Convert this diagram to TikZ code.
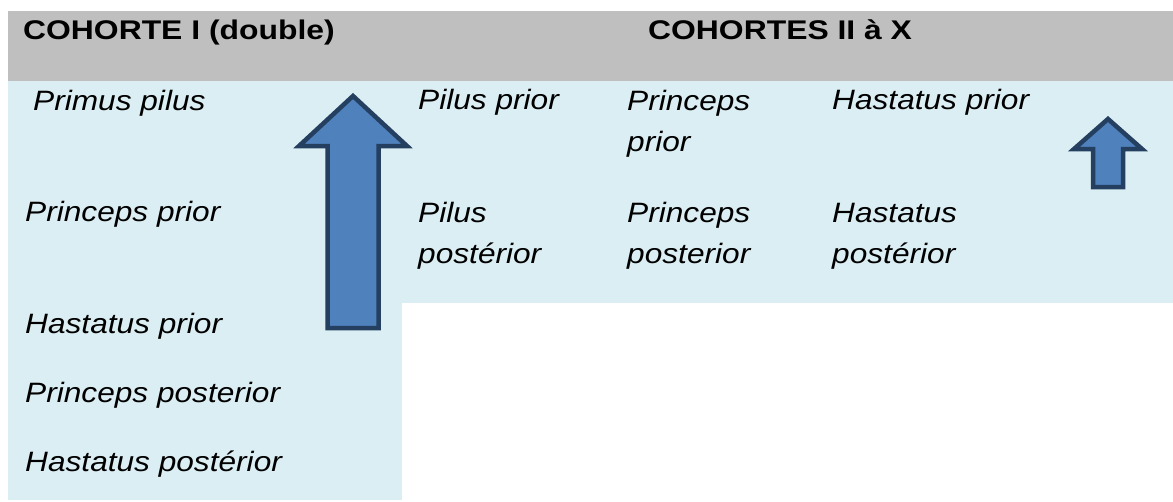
\documentclass[tikz,border=0pt]{standalone}
\usepackage{fontspec}
\setmainfont{Liberation Sans}[FakeStretch=1.13]
\newfontfamily\headfont{Liberation Sans}[FakeStretch=1.18]
\definecolor{headgray}{HTML}{BFBFBF}
\definecolor{cellblue}{HTML}{DAEEF3}
\definecolor{arrowfill}{HTML}{4F81BD}
\definecolor{arrowline}{HTML}{243F60}
\begin{document}
\begin{tikzpicture}[x=1pt,y=-1pt,
  cell/.style={anchor=base west,inner sep=0pt,font=\fontsize{28}{41}\selectfont\itshape,align=left},
  head/.style={anchor=base west,inner sep=0pt,font=\headfont\fontsize{27}{33}\selectfont\bfseries},
  arrowshape/.style={fill=arrowfill,draw=arrowline,line width=4.5pt,line join=miter}]
\useasboundingbox (0,0) rectangle (1173,501);
\fill[headgray] (8,11) rectangle (1173,81);
\fill[cellblue] (8,81) rectangle (402,500);
\fill[cellblue] (402,81) rectangle (1173,303);
% header
\node[head] (h1) at (23,39) {COHORTE I (double)};
\node[head] (h2) at (648,39) {COHORTES II à X};
% left column
\node[cell] (c1) at (33,110) {Primus pilus};
\node[cell] (c2) at (25,221) {Princeps prior};
\node[cell] (c3) at (25,333) {Hastatus prior};
\node[cell] (c4) at (25,402) {Princeps posterior};
\node[cell] (c5) at (25,471) {Hastatus postérior};
% right columns (base anchor = last line)
\node[cell] (r1) at (418,109) {Pilus prior};
\node[cell] (r2) at (627,151) {Princeps\\prior};
\node[cell] (r3) at (832,109) {Hastatus prior};
\node[cell] (r4) at (418,263) {Pilus\\postérior};
\node[cell] (r5) at (627,263) {Princeps\\posterior};
\node[cell] (r6) at (832,263) {Hastatus\\postérior};
% arrows
\draw[arrowshape] (353,96) -- (407,146) -- (378.5,146) -- (378.5,328) -- (327.5,328) -- (327.5,146) -- (299,146) -- cycle;
\draw[arrowshape] (1108,119) -- (1142,149) -- (1123,149) -- (1123,187) -- (1093,187) -- (1093,149) -- (1074,149) -- cycle;
\end{tikzpicture}
\end{document}
